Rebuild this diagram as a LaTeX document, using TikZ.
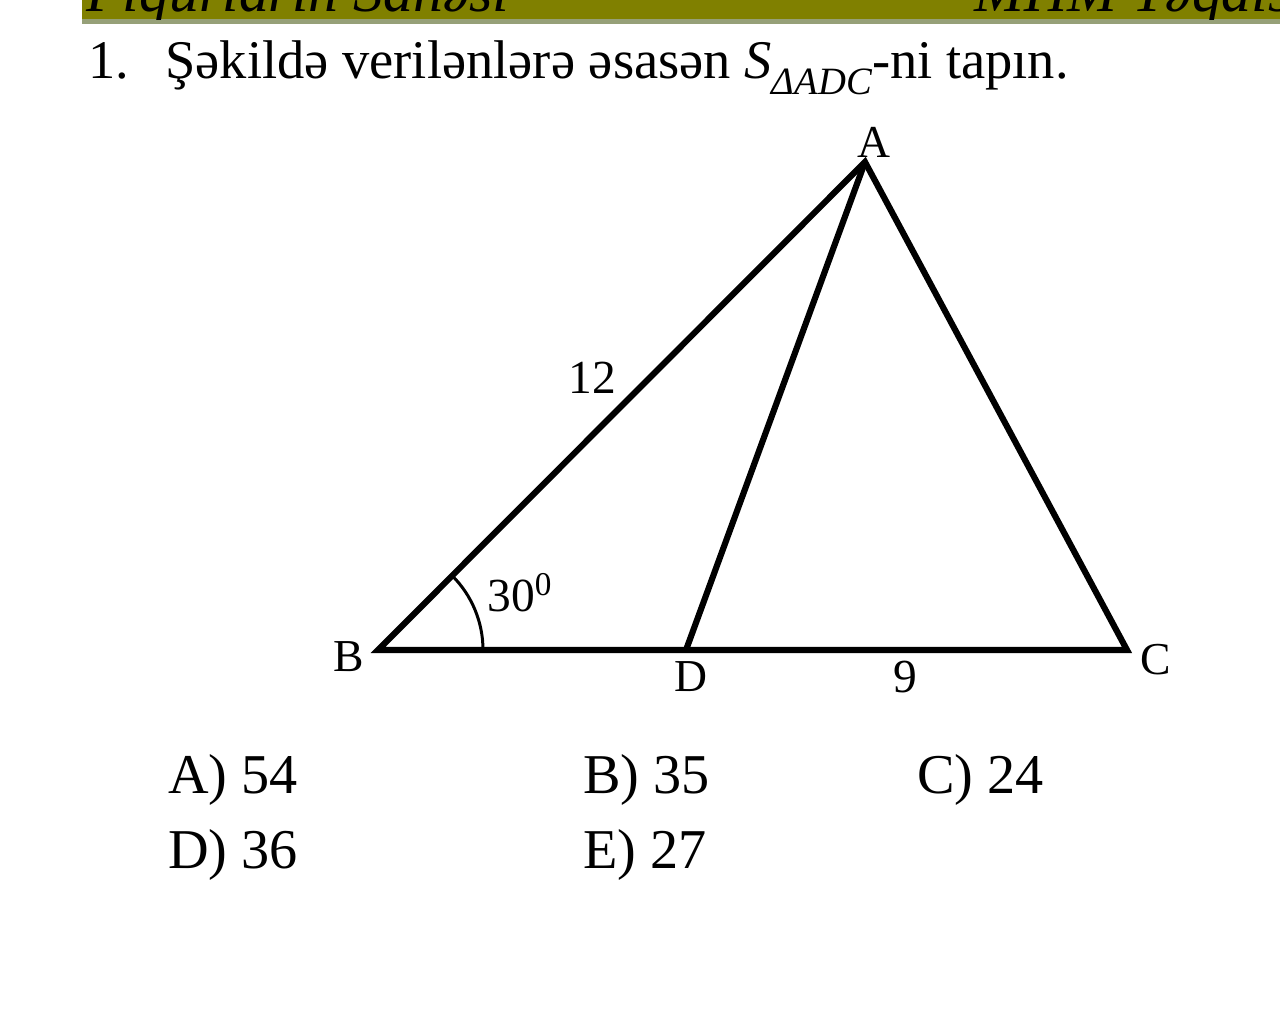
\documentclass[tikz,border=0pt]{standalone}
\usepackage{fontspec}
\setmainfont{Liberation Serif}
\usetikzlibrary{calc}
\definecolor{bandcol}{RGB}{128,128,0}
\definecolor{bandline}{RGB}{150,160,120}
\begin{document}
\begin{tikzpicture}[x=0.02cm,y=-0.02cm,
	side/.style={line width=3.5pt,line join=miter},
	vlabel/.style={font=\fontsize{26}{30}\selectfont},
	numlabel/.style={font=\fontsize{27}{32}\selectfont},
	answer/.style={anchor=west,inner sep=0pt,font=\fontsize{32}{38}\selectfont}]
	\useasboundingbox (0,0) rectangle (1280,1012);
	
	% ---- Header band ----
	\fill[bandcol] (82,0) rectangle (1280,19);
	\fill[bandline] (82,19) rectangle (1280,24);
	\begin{scope}
		\clip (82,0) rectangle (1280,19);
		\node[anchor=base west,inner sep=0pt,font=\fontsize{34}{40}\selectfont\itshape] (head1) at (86,11) {Fiqurların Sahəsi};
		\node[anchor=base east,inner sep=0pt,font=\fontsize{34}{40}\selectfont\itshape] (head2) at (1292,11) {MHM Təqdis};
	\end{scope}
	
	% ---- Question ----
	\node[anchor=base west,inner sep=0pt,font=\fontsize{31}{36}\selectfont] (num) at (88,78) {1.};
	\node[anchor=base west,inner sep=0pt,font=\fontsize{31}{36}\selectfont] (question) at (165,78)
		{Şəkildə verilənlərə əsasən \textit{S}\raisebox{-0.3em}{\fontsize{22}{26}\selectfont\textit{ΔADC}}-ni tapın.};
	
	% ---- Vertices ----
	\coordinate (A) at (865,162);
	\coordinate (B) at (378,650);
	\coordinate (C) at (1127,650);
	\coordinate (D) at (686,650);
	
	% ---- Sides ----
	\draw[side] (B) -- (A) -- (C) -- cycle;
	\draw[side] (D) -- (A);
	
	% ---- Angle mark at B ----
	\draw[line width=1.7pt] ($(B)+(105,0)$) arc[start angle=0,end angle=-45,radius=105];
	
	% ---- Labels ----
	\node[vlabel] (lA) at (874,142) {A};
	\node[vlabel] (lB) at (349,657) {B};
	\node[vlabel] (lC) at (1156,660) {C};
	\node[vlabel] (lD) at (691,677) {D};
	\node[numlabel] (lAB) at (592,378) {12};
	\node[numlabel] (lDC) at (905,677) {9};
	\node[numlabel] (lang) at (520,593) {30\textsuperscript{0}};
	
	% ---- Answers ----
	\foreach \x/\y/\txt in {168/780/A) 54, 583/780/B) 35, 917/780/C) 24,
		168/855/D) 36, 583/855/E) 27}
	\node[answer] at (\x,\y) {\txt};
	
\end{tikzpicture}
\end{document}
